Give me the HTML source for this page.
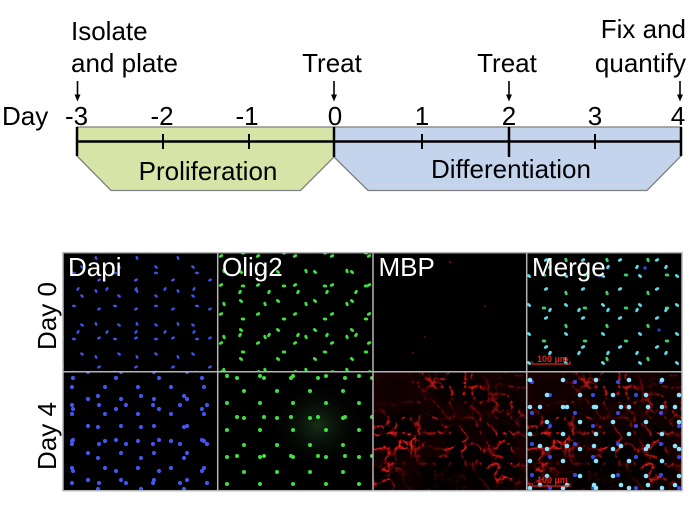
<!DOCTYPE html>
<html><head><meta charset="utf-8"><style>
html,body{margin:0;padding:0;background:#fff;}
svg{display:block;}
text{font-family:"Liberation Sans",Arial,sans-serif;}
</style></head><body>
<svg width="700" height="512" viewBox="0 0 700 512" xmlns="http://www.w3.org/2000/svg">
<defs>
 <pattern id="b1" width="37" height="29" patternUnits="userSpaceOnUse" fill="#3e52e6"><ellipse cx="8" cy="6" rx="2.1" ry="1.3" transform="rotate(40 8 6)"/><ellipse cx="25" cy="19" rx="2.1" ry="1.3" transform="rotate(-30 25 19)"/></pattern>
 <pattern id="b2" width="41" height="33" patternUnits="userSpaceOnUse" fill="#3e52e6"><ellipse cx="14" cy="27" rx="2.1" ry="1.3" transform="rotate(70 14 27)"/><ellipse cx="33" cy="9" rx="2.1" ry="1.3" transform="rotate(10 33 9)"/></pattern>
 <pattern id="b3" width="29" height="43" patternUnits="userSpaceOnUse" fill="#3e52e6"><ellipse cx="20" cy="31" rx="2.1" ry="1.3" transform="rotate(-60 20 31)"/></pattern>
 <pattern id="g1" x="11" y="5" width="37" height="29" patternUnits="userSpaceOnUse" fill="#3fe03f"><ellipse cx="8" cy="6" rx="2.3" ry="1.5" transform="rotate(40 8 6)"/><ellipse cx="25" cy="19" rx="2.3" ry="1.5" transform="rotate(-30 25 19)"/></pattern>
 <pattern id="g2" x="5" y="13" width="41" height="33" patternUnits="userSpaceOnUse" fill="#3fe03f"><ellipse cx="14" cy="27" rx="2.3" ry="1.5" transform="rotate(70 14 27)"/><ellipse cx="33" cy="9" rx="2.3" ry="1.5" transform="rotate(10 33 9)"/></pattern>
 <pattern id="g3" x="17" y="3" width="29" height="43" patternUnits="userSpaceOnUse" fill="#3fe03f"><ellipse cx="20" cy="31" rx="2.3" ry="1.5" transform="rotate(-60 20 31)"/></pattern>
 <pattern id="c1" x="3" y="9" width="37" height="29" patternUnits="userSpaceOnUse" fill="#5fd8e4"><ellipse cx="8" cy="6" rx="2.3" ry="1.5" transform="rotate(40 8 6)"/><ellipse cx="25" cy="19" rx="2.3" ry="1.5" transform="rotate(-30 25 19)"/></pattern>
 <pattern id="c2" x="19" y="2" width="41" height="33" patternUnits="userSpaceOnUse" fill="#3fcf6a"><ellipse cx="14" cy="27" rx="2.3" ry="1.5" transform="rotate(70 14 27)"/><ellipse cx="33" cy="9" rx="2.3" ry="1.5" transform="rotate(10 33 9)"/></pattern>
 <pattern id="c3" x="8" y="21" width="29" height="43" patternUnits="userSpaceOnUse" fill="#5fd8e4"><ellipse cx="20" cy="31" rx="2.3" ry="1.5" transform="rotate(-60 20 31)"/></pattern>
 <pattern id="B1" width="33" height="27" patternUnits="userSpaceOnUse" fill="#4255f0"><circle cx="6" cy="9" r="2.1"/><circle cx="22" cy="21" r="2.1"/></pattern>
 <pattern id="B2" width="43" height="31" patternUnits="userSpaceOnUse" fill="#4255f0"><circle cx="30" cy="6" r="2.1"/><circle cx="12" cy="24" r="2.1"/></pattern>
 <pattern id="B3" width="27" height="39" patternUnits="userSpaceOnUse" fill="#4255f0"><circle cx="18" cy="15" r="2.1"/></pattern>
 <pattern id="G1" x="7" y="4" width="33" height="27" patternUnits="userSpaceOnUse" fill="#3de03d"><circle cx="6" cy="9" r="2"/><circle cx="22" cy="21" r="2"/></pattern>
 <pattern id="G3" x="3" y="12" width="27" height="39" patternUnits="userSpaceOnUse" fill="#3de03d"><circle cx="18" cy="15" r="2"/></pattern>
 <pattern id="C1" x="13" y="8" width="33" height="27" patternUnits="userSpaceOnUse" fill="#8ae6ff"><circle cx="6" cy="9" r="2.3"/><circle cx="22" cy="21" r="2.3"/></pattern>
 <pattern id="C2" x="4" y="17" width="43" height="31" patternUnits="userSpaceOnUse" fill="#3a48e0"><circle cx="30" cy="6" r="2.1"/><circle cx="12" cy="24" r="2.1"/></pattern>
 <pattern id="C3" x="9" y="2" width="27" height="39" patternUnits="userSpaceOnUse" fill="#8ae6ff"><circle cx="18" cy="15" r="2.3"/></pattern>
 <radialGradient id="glow" cx="0.5" cy="0.5" r="0.5"><stop offset="0" stop-color="#1e3a1e" stop-opacity="0.8"/><stop offset="1" stop-color="#000" stop-opacity="0"/></radialGradient>
 <radialGradient id="dark" cx="0.5" cy="0.5" r="0.5"><stop offset="0" stop-color="#000" stop-opacity="0.9"/><stop offset="0.6" stop-color="#000" stop-opacity="0.6"/><stop offset="1" stop-color="#000" stop-opacity="0"/></radialGradient>
 <clipPath id="pc"><rect x="0" y="0" width="154" height="119"/></clipPath>
 <filter id="netf" x="0" y="0" width="1" height="1" filterUnits="objectBoundingBox" color-interpolation-filters="sRGB">
  <feTurbulence type="turbulence" baseFrequency="0.065" numOctaves="4" seed="5" result="t"/>
  <feColorMatrix in="t" type="matrix" values="-5 0 0 0 1.25  -1.2 0 0 0 0.22  -1.2 0 0 0 0.22  0 0 0 0 1" result="n"/>
  <feTurbulence type="fractalNoise" baseFrequency="0.02" numOctaves="2" seed="9" result="m"/>
  <feColorMatrix in="m" type="matrix" values="0 0 0 0 0  0 0 0 0 0  0 0 0 0 0  4 0 0 0 -1.5" result="ma"/>
  <feComposite in="n" in2="ma" operator="in"/>
 </filter>
 <g id="net" clip-path="url(#pc)">
  <rect x="0" y="0" width="154" height="119" fill="#1a0000"/>
  <rect x="0" y="0" width="154" height="119" fill="#000" filter="url(#netf)"/>
  <ellipse cx="75" cy="112" rx="55" ry="32" fill="url(#dark)"/>
  <ellipse cx="20" cy="18" rx="22" ry="18" fill="url(#dark)" opacity="0.6"/>
 </g>
</defs>

<g font-size="26" fill="#000">
 <text x="71" y="40">Isolate</text>
 <text x="71" y="72">and plate</text>
 <text x="332" y="72" text-anchor="middle">Treat</text>
 <text x="507" y="72" text-anchor="middle">Treat</text>
 <text x="686" y="38" text-anchor="end">Fix and</text>
 <text x="686" y="72" text-anchor="end">quantify</text>
 <text x="2" y="125">Day</text>
 <text x="76.5" y="125" text-anchor="middle">-3</text>
 <text x="162" y="125" text-anchor="middle">-2</text>
 <text x="247" y="125" text-anchor="middle">-1</text>
 <text x="335" y="125" text-anchor="middle">0</text>
 <text x="422" y="125" text-anchor="middle">1</text>
 <text x="509" y="125" text-anchor="middle">2</text>
 <text x="595" y="125" text-anchor="middle">3</text>
 <text x="678" y="125" text-anchor="middle">4</text>
</g>
<g stroke="#000" stroke-width="1.6">
 <line x1="77.5" y1="81" x2="77.5" y2="96"/>
 <line x1="334" y1="81" x2="334" y2="96"/>
 <line x1="509" y1="81" x2="509" y2="96"/>
 <line x1="680" y1="81" x2="680" y2="96"/>
</g>
<g fill="#000">
 <polygon points="74.5,94.5 80.5,94.5 77.5,101.5"/>
 <polygon points="331,94.5 337,94.5 334,101.5"/>
 <polygon points="506,94.5 512,94.5 509,101.5"/>
 <polygon points="677,94.5 683,94.5 680,101.5"/>
</g>
<polygon points="77,127 334,127 334,157 300.5,190.5 111,190.5 77,156" fill="#d6e4a7" stroke="#7f7f7f" stroke-width="1.3"/>
<polygon points="334,127 681,127 681,156 647,190.5 368,190.5 334,157" fill="#c4d4ed" stroke="#7f7f7f" stroke-width="1.3"/>
<g stroke="#000" stroke-width="2.5">
 <line x1="77" y1="141.5" x2="681" y2="141.5"/>
 <line x1="77" y1="127" x2="77" y2="156"/>
 <line x1="334" y1="127" x2="334" y2="157"/>
 <line x1="681" y1="127" x2="681" y2="156"/>
 <line x1="509" y1="127" x2="509" y2="157"/>
</g>
<g stroke="#000" stroke-width="2">
 <line x1="163" y1="134" x2="163" y2="149"/>
 <line x1="249" y1="134" x2="249" y2="149"/>
 <line x1="422" y1="134" x2="422" y2="149"/>
 <line x1="595" y1="134" x2="595" y2="149"/>
</g>
<g font-size="26" fill="#000">
 <text x="208" y="180" text-anchor="middle">Proliferation</text>
 <text x="511" y="178" text-anchor="middle">Differentiation</text>
</g>

<rect x="63" y="252.7" width="619" height="238" fill="#000"/>
<g>
 <rect x="63" y="252.7" width="154.7" height="119" fill="url(#b1)"/>
 <rect x="63" y="252.7" width="154.7" height="119" fill="url(#b2)"/>
 <rect x="63" y="252.7" width="154.7" height="119" fill="url(#b3)"/>
</g>
<g>
 <rect x="217.7" y="252.7" width="155.3" height="119" fill="url(#g1)"/>
 <rect x="217.7" y="252.7" width="155.3" height="119" fill="url(#g2)"/>
 <rect x="217.7" y="252.7" width="155.3" height="119" fill="url(#g3)"/>
</g>
<g fill="#c01818">
 <circle cx="450" cy="262" r="0.9"/>
 <circle cx="485" cy="306" r="0.8"/>
 <circle cx="425" cy="337" r="0.7"/>
 <circle cx="413" cy="353" r="0.8"/>
</g>
<g>
 <rect x="526.7" y="252.7" width="155.3" height="119" fill="url(#c1)"/>
 <rect x="526.7" y="252.7" width="155.3" height="119" fill="url(#c2)"/>
 <rect x="526.7" y="252.7" width="155.3" height="119" fill="url(#c3)"/>
 <circle cx="645" cy="268" r="1.8" fill="#3040d0"/>
 <circle cx="600" cy="276" r="1.6" fill="#3040d0"/>
 <circle cx="659" cy="330" r="1.6" fill="#3040d0"/>
</g>
<g>
 <rect x="63" y="371.7" width="154.7" height="119" fill="url(#B1)"/>
 <rect x="63" y="371.7" width="154.7" height="119" fill="url(#B2)"/>
 <rect x="63" y="371.7" width="154.7" height="119" fill="url(#B3)"/>
</g>
<g>
 <ellipse cx="318" cy="425" rx="50" ry="45" fill="url(#glow)"/>
 <rect x="217.7" y="371.7" width="155.3" height="119" fill="url(#G1)"/>
 <rect x="217.7" y="371.7" width="155.3" height="119" fill="url(#G3)"/>
</g>
<use href="#net" transform="translate(373.5,372)"/>
<use href="#net" transform="translate(527.5,372)"/>
<g>
 <rect x="526.7" y="371.7" width="155.3" height="119" fill="url(#C2)"/>
 <rect x="526.7" y="371.7" width="155.3" height="119" fill="url(#C1)"/>
 <rect x="526.7" y="371.7" width="155.3" height="119" fill="url(#C3)"/>
</g>

<g stroke="#b4b4b4" stroke-width="1.5" fill="none">
 <rect x="63" y="252.7" width="619" height="238"/>
 <line x1="63" y1="371.7" x2="682" y2="371.7"/>
 <line x1="217.7" y1="252.7" x2="217.7" y2="490.7"/>
 <line x1="373" y1="252.7" x2="373" y2="490.7"/>
 <line x1="526.7" y1="252.7" x2="526.7" y2="490.7"/>
</g>

<g font-size="26" fill="#fff">
 <text x="68" y="276">Dapi</text>
 <text x="222" y="276">Olig2</text>
 <text x="378.5" y="276">MBP</text>
 <text x="532" y="276">Merge</text>
</g>
<g font-size="26" fill="#000">
 <text transform="translate(56,316) rotate(-90)" text-anchor="middle">Day 0</text>
 <text transform="translate(56,436) rotate(-90)" text-anchor="middle">Day 4</text>
</g>

<g fill="#e0201c" font-size="9" font-weight="bold">
 <text x="537" y="362">100 µm</text>
 <text x="537" y="483">100 µm</text>
</g>
<g stroke="#e0201c" stroke-width="1.2" fill="none">
 <polyline points="532,361 532,364 570,364 570,361"/>
 <polyline points="532,483 532,486 570,486 570,483"/>
</g>
</svg>
</body></html>
